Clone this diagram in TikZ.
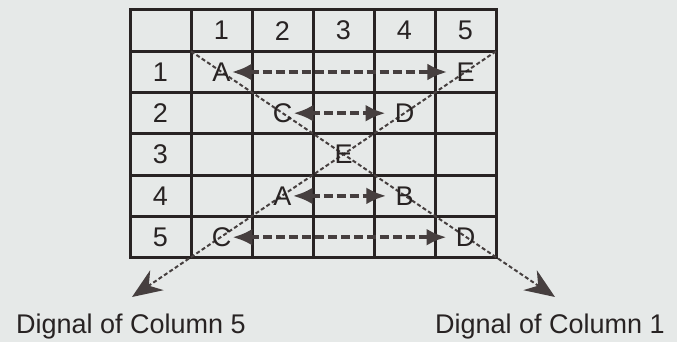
\documentclass[tikz,border=0pt]{standalone}
\usepackage{fontspec}
\setmainfont{Liberation Sans}
\usepackage{tikz}
\usetikzlibrary{arrows.meta, positioning}
\definecolor{paper}{RGB}{230,233,232}
\definecolor{ink}{RGB}{40,35,35}
\definecolor{dashink}{RGB}{70,63,63}
\tikzstyle{biarrow} = [line width=4.5pt, dashink, dash pattern=on 9pt off 4pt, {Latex[length=20pt,width=17pt]}-{Latex[length=20pt,width=17pt]}, shorten >=8pt]

\begin{document}
\begin{tikzpicture}[
  x=1pt, y=-1pt,
  every node/.style={font=\fontsize{27}{32}\selectfont, text=ink, inner sep=1pt},
  gridline/.style={line width=3pt, ink, line cap=rect},
  diag/.style={line width=2pt, dashink, dash pattern=on 4pt off 2.5pt, -{Stealth[length=30pt,width=24pt]}}
]
\useasboundingbox[fill=paper] (0,0) rectangle (677,342);

% Table of rows and columns
\foreach \i in {0,...,6} {
  \draw[gridline] (130+61*\i,10) -- (130+61*\i,257.8);
  \draw[gridline] (130,10+41.3*\i) -- (496,10+41.3*\i);
}
\foreach \n in {1,...,5} {
  \node (col\n) at (160.5+61*\n,30.6) {\n};
  \node (row\n) at (160.5,30.6+41.3*\n) {\n};
}

% Corners and ends of the two diagonals
\coordinate (tl) at (191,51.3);
\coordinate (tr) at (496,51.3);
\coordinate (tipR) at (555,297);
\coordinate (tipL) at (132,297);
\draw[diag] (tl) -- (tipR);
\draw[diag] (tr) -- (tipL);

% Letters in the cells
\node (a11) at (221.5,72) {A};
\node (e15) at (465.5,72) {E};
\node (c22) at (282.5,113.2) {C};
\node (d24) at (404.5,113.2) {D};
\node (e33) at (343.5,154.6) {E};
\node (a42) at (282.5,195.9) {A};
\node (b44) at (404.5,195.9) {B};
\node (c51) at (221.5,237.2) {C};
\node (d55) at (465.5,237.2) {D};

% Pairs in the same row
\draw[biarrow] (a11) -- (e15);
\draw[biarrow] (c22) -- (d24);
\draw[biarrow] (a42) -- (b44);
\draw[biarrow] (c51) -- (d55);

% Names of the diagonals
\node[anchor=base] (lab5) at (131,333) {Dignal of Column 5};
\node[anchor=base] (lab1) at (550,333) {Dignal of Column 1};

\end{tikzpicture}
\end{document}
